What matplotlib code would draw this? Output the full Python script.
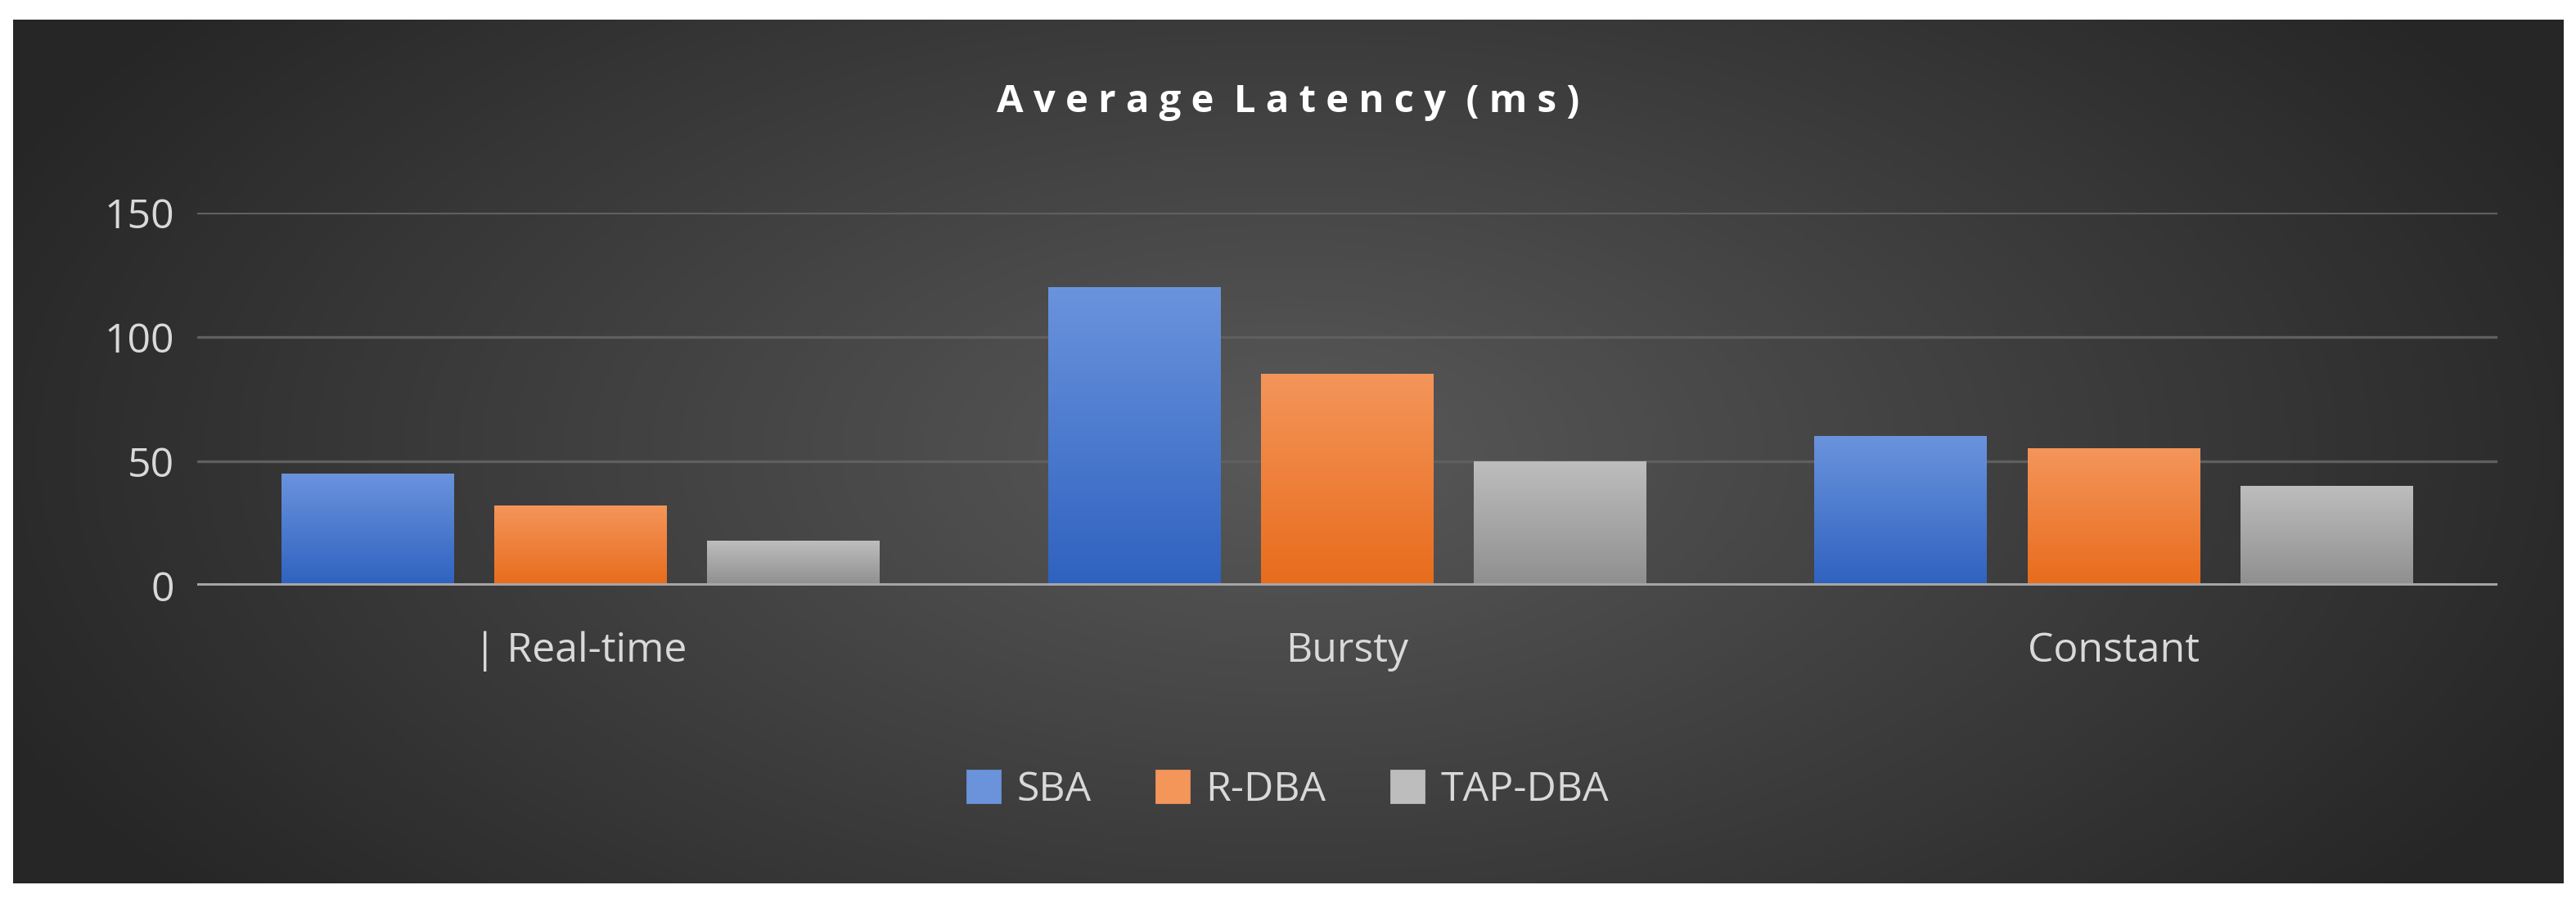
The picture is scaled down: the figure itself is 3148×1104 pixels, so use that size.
import numpy as np
import matplotlib
matplotlib.use("Agg")
import matplotlib.pyplot as plt
from matplotlib.colors import LinearSegmentedColormap
from matplotlib.patches import Patch

plt.rcParams['font.family'] = ['Open Sans', 'DejaVu Sans']

categories = ["| Real-time", "Bursty", "Constant"]
series = ["SBA", "R-DBA", "TAP-DBA"]
sba = [45, 120, 60]
rdba = [32, 85, 55]
tapdba = [18, 50, 40]
yticks = [0, 50, 100, 150]

W, H = 1568, 552
fig = plt.figure(figsize=(W/100*1.0039, H/100), dpi=200)
fig.patch.set_facecolor("white")

bg = fig.add_axes([8/W, 12/H, 1552/W, 528/H])
yy, xx = np.mgrid[-1:1:300j, -1:1:800j]
r = np.sqrt((xx*0.9)**2 + (yy*0.6)**2)
bg.imshow(np.clip(r, 0, 1), cmap=LinearSegmentedColormap.from_list("b", ["#595959", "#262626"]),
          extent=[0, 1, 0, 1], aspect="auto", vmin=0, vmax=1.0)
bg.axis("off")

ax = fig.add_axes([120/W, 1-358/H, 1400/W, 228/H])
ax.set_facecolor("none")
for s in ax.spines.values():
    s.set_visible(False)
ax.set_yticks(yticks)
ax.tick_params(length=0, colors="#d9d9d9", labelsize=18, pad=10)
ax.set_yticklabels([str(t) for t in yticks])
for t in yticks[1:]:
    ax.axhline(t, color="#5f5f5f", lw=1.2, zorder=0)
ax.axhline(0, color="#a6a6a6", lw=2.5, zorder=3)
ax.set_xticks(range(3))
ax.set_xticklabels(categories, fontsize=18, color="#d9d9d9")
ax.tick_params(axis="x", pad=20)

grads = [("#6a93dc", "#2f62c0"), ("#f4955a", "#e86c1c"), ("#bdbdbd", "#8f8f8f")]
w, off = 0.225, 0.278
x = np.arange(3)
for i, vals in enumerate([sba, rdba, tapdba]):
    cm = LinearSegmentedColormap.from_list("g%d" % i, [grads[i][1], grads[i][0]])
    for xi, v in zip(x + (i-1)*off, vals):
        ax.imshow(np.linspace(0, 1, 100).reshape(-1, 1), cmap=cm, origin="lower",
                  extent=[xi-w/2, xi+w/2, 0, v], aspect="auto", zorder=2)
ax.set_xlim(-0.5, 2.5)
ax.set_ylim(0, 150)

fig.text(0.5, 1-62/H, "A v e r a g e  L a t e n c y  ( m s )", ha="center", va="center",
         fontsize=17, fontweight="bold", color="white")

handles = [Patch(color=grads[i][0]) for i in range(3)]
fig.legend(handles, series, loc="center", bbox_to_anchor=(0.5, 1-483/H), ncol=3,
           frameon=False, fontsize=18, labelcolor="#d9d9d9", handlelength=0.8,
           handleheight=0.8, columnspacing=1.6, handletextpad=0.4)

fig.savefig("out.png", dpi=200, facecolor="white")
